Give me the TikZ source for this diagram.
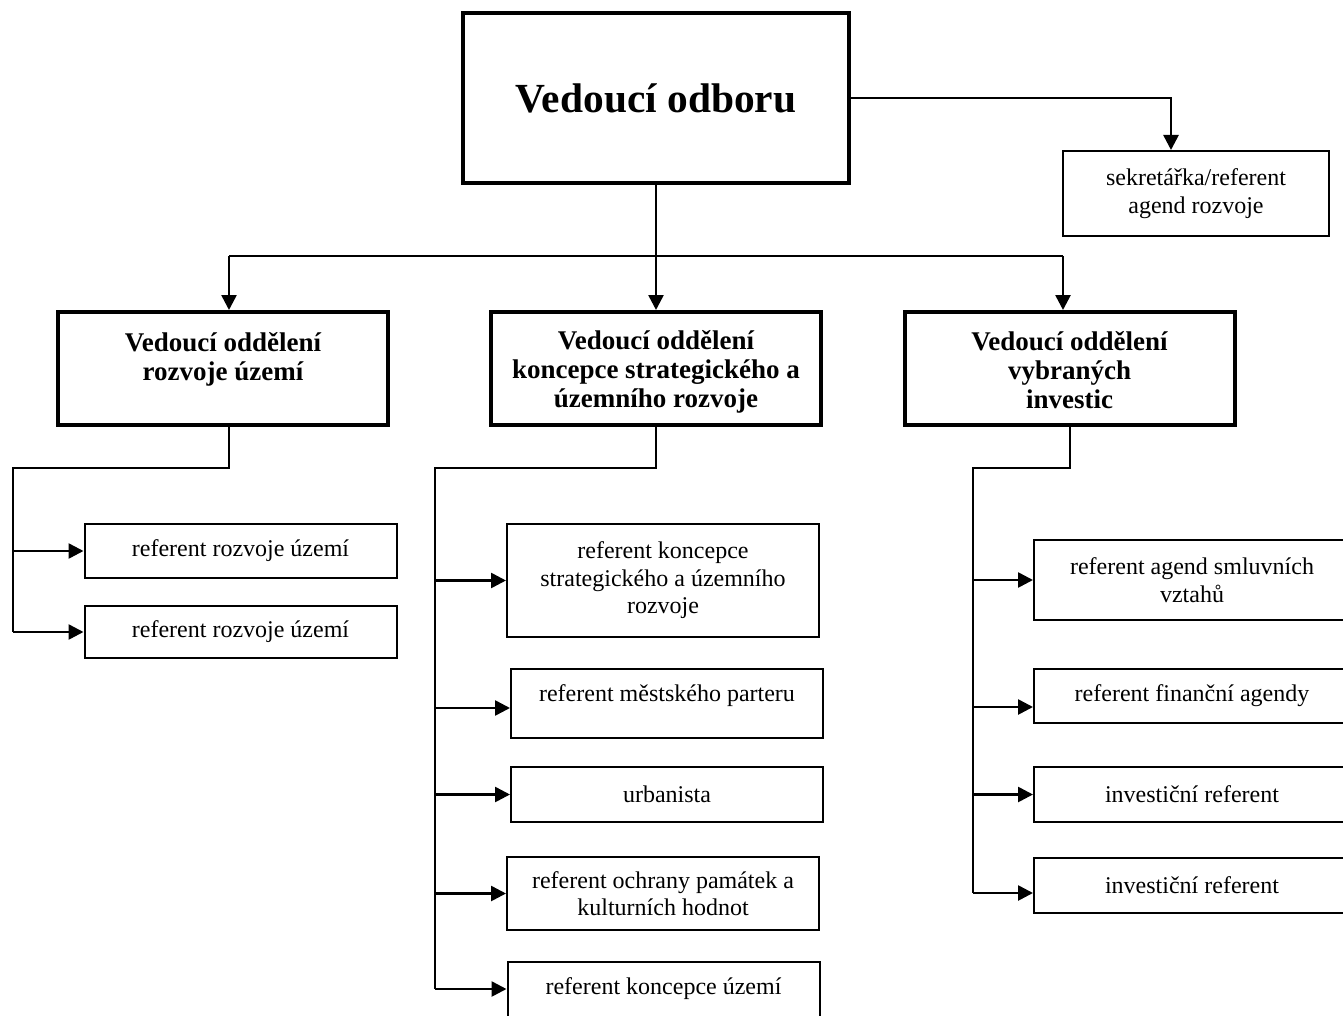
\documentclass[tikz,border=0pt]{standalone}
\usepackage{fontspec}
\setmainfont{Liberation Serif}
\usetikzlibrary{positioning, arrows.meta}

\begin{document}
\begin{tikzpicture}[
    x=0.5pt, y=-0.5pt,
    >={Triangle[length=7.5pt, width=7.5pt]},
    boss/.style={draw, line width=2pt, inner sep=0pt, align=center,
                 minimum width=193pt, minimum height=85pt,
                 font=\fontsize{20.7}{24}\selectfont\bfseries},
    head/.style={draw, line width=2pt, inner sep=0pt, align=center,
                 minimum width=165pt, anchor=north,
                 font=\fontsize{13.5}{14.5}\selectfont\bfseries},
    sub/.style={draw, line width=1pt, inner sep=0pt, align=center,
                minimum width=156pt, font=\fontsize{12}{13.8}\selectfont},
    bus/.style={line width=1pt},
    arr/.style={->, line width=1.3pt},
  ]

  \useasboundingbox (0,0) rectangle (1343,1016);
  \clip (0,0) rectangle (1343,1016);

  % ============ Row 0: Vedoucí odboru ============
  \node[boss] (vo) at (656,98) {Vedoucí odboru};

  \node[sub, minimum width=133pt, minimum height=42.5pt] (sek) at (1196,193.5) {
    sekretářka/referent\\agend rozvoje
  };

  % ============ Row 1: oddělení ============
  \node[head, text height=34pt, text depth=22.5pt] (oru) at (223,310) {Vedoucí oddělení\\rozvoje území};
  \node[head, text height=47.5pt, text depth=9pt] (oks) at (656,310) {Vedoucí oddělení\\koncepce strategického a\\územního rozvoje};
  \node[head, text height=48pt, text depth=8.5pt] (ovi) at (1069.5,310) {Vedoucí oddělení\\vybraných\\investic};

  % ============ Row 2: rozvoj území ============
  \node[sub, minimum height=27pt] (ru1) at (240.5,551) {referent rozvoje území};
  \node[sub, minimum height=26pt] (ru2) at (240.5,632) {referent rozvoje území};

  % ============ Row 2: koncepce ============
  \node[sub, minimum height=56.5pt] (ks1) at (663,580.5) {
    referent koncepce\\strategického a územního\\rozvoje
  };
  \node[sub, anchor=north, text height=16pt, text depth=18.5pt] (ks2) at (667,668) {referent městského parteru};
  \node[sub, minimum height=27.5pt] (ks3) at (667,794.5) {urbanista};
  \node[sub, minimum height=36.5pt] (ks4) at (663,893.5) {
    referent ochrany památek a\\kulturních hodnot
  };
  \node[sub, anchor=north, text height=16pt, text depth=20pt] (ks5) at (663.5,961) {referent koncepce území};

  % ============ Row 2: investice ============
  \node[sub, minimum width=158pt, minimum height=40pt] (vi1) at (1192,580) {
    referent agend smluvních\\vztahů
  };
  \node[sub, minimum width=158pt, minimum height=27pt] (vi2) at (1192,696) {referent finanční agendy};
  \node[sub, minimum width=158pt, minimum height=27.5pt] (vi3) at (1192,794.5) {investiční referent};
  \node[sub, minimum width=158pt, minimum height=27.5pt] (vi4) at (1192,885.5) {investiční referent};

  % ======== TOP CONNECTIONS ========
  \draw[arr] (vo.east) -| ([xshift=-12.5pt]sek.north);

  \draw[bus] (vo.south) -- ++(0,71) coordinate (bus);
  \draw[bus] ([xshift=3pt]oru.north |- bus) -- ([xshift=-3.25pt]ovi.north |- bus);
  \draw[arr] ([xshift=3pt]oru.north |- bus) -- ([xshift=3pt]oru.north);
  \draw[arr] (bus) -- (oks.north);
  \draw[arr] ([xshift=-3.25pt]ovi.north |- bus) -- ([xshift=-3.25pt]ovi.north);

  % ======== LEFT FORK ========
  \coordinate (lfork) at (13,468);
  \draw[bus] ([xshift=3pt]oru.south) |- (lfork) -- (lfork |- ru2.west);
  \draw[arr] (lfork |- ru1.west) -- (ru1.west);
  \draw[arr] (lfork |- ru2.west) -- (ru2.west);

  % ======== MIDDLE FORK ========
  \coordinate (kfork) at (435,468);
  \coordinate (ks2in) at ([yshift=-2.25pt]ks2.west);
  \coordinate (ks5in) at ([yshift=4.5pt]ks5.west);
  \draw[bus] (oks.south) |- (kfork) -- (kfork |- ks5in);
  \draw[arr] (kfork |- ks1.west) -- (ks1.west);
  \draw[arr] (kfork |- ks2in) -- (ks2in);
  \draw[arr] (kfork |- ks3.west) -- (ks3.west);
  \draw[arr] (kfork |- ks4.west) -- (ks4.west);
  \draw[arr] (kfork |- ks5in) -- (ks5in);

  % ======== RIGHT FORK ========
  \coordinate (vfork) at (973,468);
  \coordinate (vi2in) at ([yshift=-5.5pt]vi2.west);
  \coordinate (vi4in) at ([yshift=-3.75pt]vi4.west);
  \draw[bus] (ovi.south) |- (vfork) -- (vfork |- vi4in);
  \draw[arr] (vfork |- vi1.west) -- (vi1.west);
  \draw[arr] (vfork |- vi2in) -- (vi2in);
  \draw[arr] (vfork |- vi3.west) -- (vi3.west);
  \draw[arr] (vfork |- vi4in) -- (vi4in);

\end{tikzpicture}
\end{document}
